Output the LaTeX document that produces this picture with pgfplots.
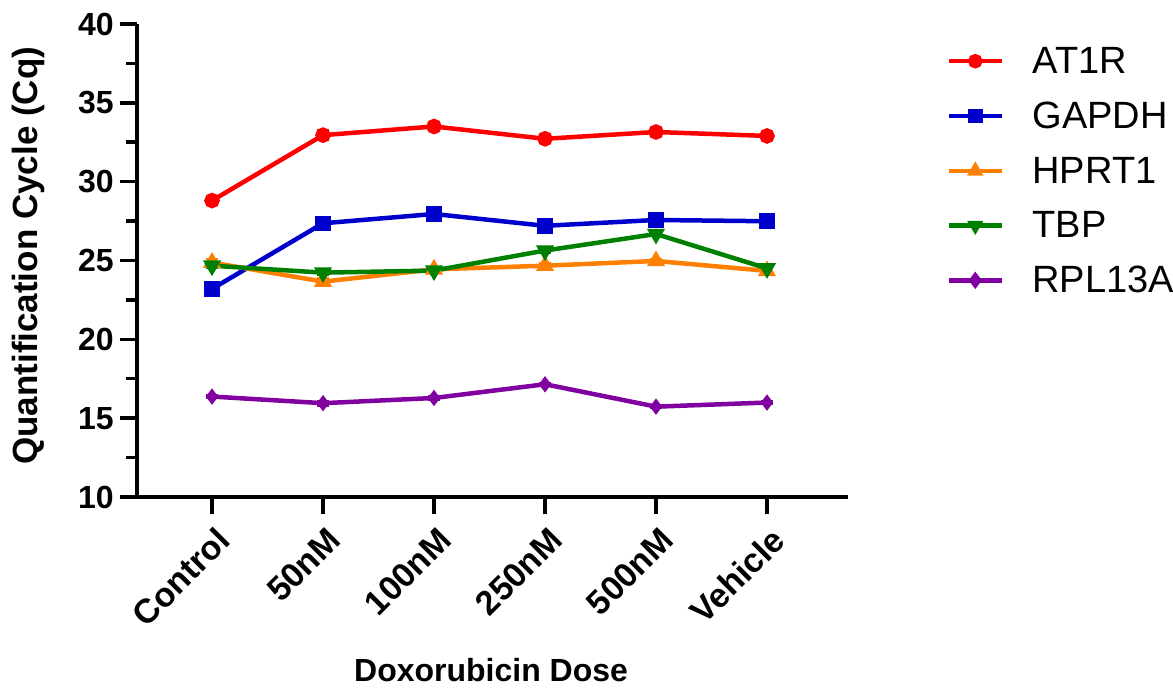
\documentclass[border=0pt]{standalone}
\usepackage{fontspec}
\setmainfont{Liberation Sans}
\usepackage{pgfplots}
\pgfplotsset{compat=1.18}
\definecolor{cRed}{RGB}{255,0,0}
\definecolor{cBlue}{RGB}{0,0,204}
\definecolor{cOrange}{RGB}{255,128,0}
\definecolor{cGreen}{RGB}{0,128,0}
\definecolor{cPurple}{RGB}{128,0,160}
\begin{document}
\begin{tikzpicture}[x=1pt,y=1pt]
\useasboundingbox (0,0) rectangle (1173,688);
\begin{axis}[
  at={(137pt,191pt)}, anchor=south west,
  scale only axis, width=711pt, height=473pt,
  xmin=-0.676, xmax=5.73, ymin=10, ymax=40,
  axis x line*=bottom, axis y line*=left,
  axis line style={line width=3.5pt, black},
  xtick={0,1,2,3,4,5},
  xticklabels={Control,50nM,100nM,250nM,500nM,Vehicle},
  ytick={10,15,20,25,30,35,40},
  minor ytick={12.5,17.5,22.5,27.5,32.5,37.5},
  major tick length=17pt, minor tick length=11pt,
  tick style={line width=3.5pt, black},
  tick align=outside,
  /pgf/number format/assume math mode=true,
  ticklabel style={font=\fontsize{32}{36}\selectfont\bfseries},
  yticklabel style={inner sep=6pt},
  xticklabel style={rotate=45, anchor=north east, inner sep=3pt,
    font=\fontsize{34}{38}\selectfont\bfseries, xshift=-3pt, yshift=-7pt},
  xlabel={Doxorubicin Dose},
  ylabel={Quantification Cycle (Cq)},
  xlabel style={font=\fontsize{32}{35}\selectfont\bfseries,
    at={(axis description cs:0.498,-0.366)}, anchor=center},
  ylabel style={font=\fontsize{35}{38}\selectfont\bfseries,
    at={(axis description cs:-0.152,0.51)}, anchor=center},
  clip=false,
  legend style={at={(1.139,0.951)}, anchor=north west, draw=none, fill=none,
    font=\fontsize{38}{42}\selectfont, row sep=27pt, inner sep=0pt,
    nodes={inner sep=0pt}},
  legend cell align=left,
  legend image code/.code={
    \draw[#1, mark repeat=2, mark phase=2, mark size=5pt] plot coordinates {(0pt,0pt) (26pt,0pt) (53pt,0pt)};
  },
  every axis plot/.append style={line width=4.5pt},
  error bars/error bar style={line width=2pt},
  error bars/error mark options={rotate=90, mark size=6pt, line width=2pt},
]
\addplot[cRed, mark=*, mark size=5.5pt, error bars/.cd, y dir=both, y explicit]
  coordinates {(0,28.8)+-(0,0.1) (1,32.95)+-(0,0.3) (2,33.5)+-(0,0.15) (3,32.72)+-(0,0.1) (4,33.15)+-(0,0.12) (5,32.9)+-(0,0.25)};
\addlegendentry{\hspace{28pt}AT1R}
\addplot[cBlue, mark=square*, mark size=5.5pt, error bars/.cd, y dir=both, y explicit]
  coordinates {(0,23.2)+-(0,0.15) (1,27.36)+-(0,0.15) (2,27.95)+-(0,0.15) (3,27.2)+-(0,0.1) (4,27.57)+-(0,0.1) (5,27.49)+-(0,0.1)};
\addlegendentry{\hspace{28pt}GAPDH}
\addplot[cOrange, mark=triangle*, mark size=6pt, error bars/.cd, y dir=both, y explicit]
  coordinates {(0,24.87)+-(0,0.2) (1,23.66)+-(0,0.2) (2,24.44)+-(0,0.15) (3,24.67)+-(0,0.15) (4,24.97)+-(0,0.15) (5,24.34)+-(0,0.2)};
\addlegendentry{\hspace{28pt}HPRT1}
\addplot[cGreen, mark=triangle*, mark size=6pt, mark options={rotate=180}, error bars/.cd, y dir=both, y explicit]
  coordinates {(0,24.67)+-(0,0.15) (1,24.23)+-(0,0.15) (2,24.36)+-(0,0.15) (3,25.63)+-(0,0.15) (4,26.68)+-(0,0.15) (5,24.5)+-(0,0.15)};
\addlegendentry{\hspace{28pt}TBP}
\addplot[cPurple, mark=diamond*, mark size=4.5pt, error bars/.cd, y dir=both, y explicit]
  coordinates {(0,16.37)+-(0,0.1) (1,15.95)+-(0,0.15) (2,16.28)+-(0,0.1) (3,17.15)+-(0,0.1) (4,15.73)+-(0,0.1) (5,15.99)+-(0,0.1)};
\addlegendentry{\hspace{28pt}RPL13A}
\end{axis}
\end{tikzpicture}
\end{document}
